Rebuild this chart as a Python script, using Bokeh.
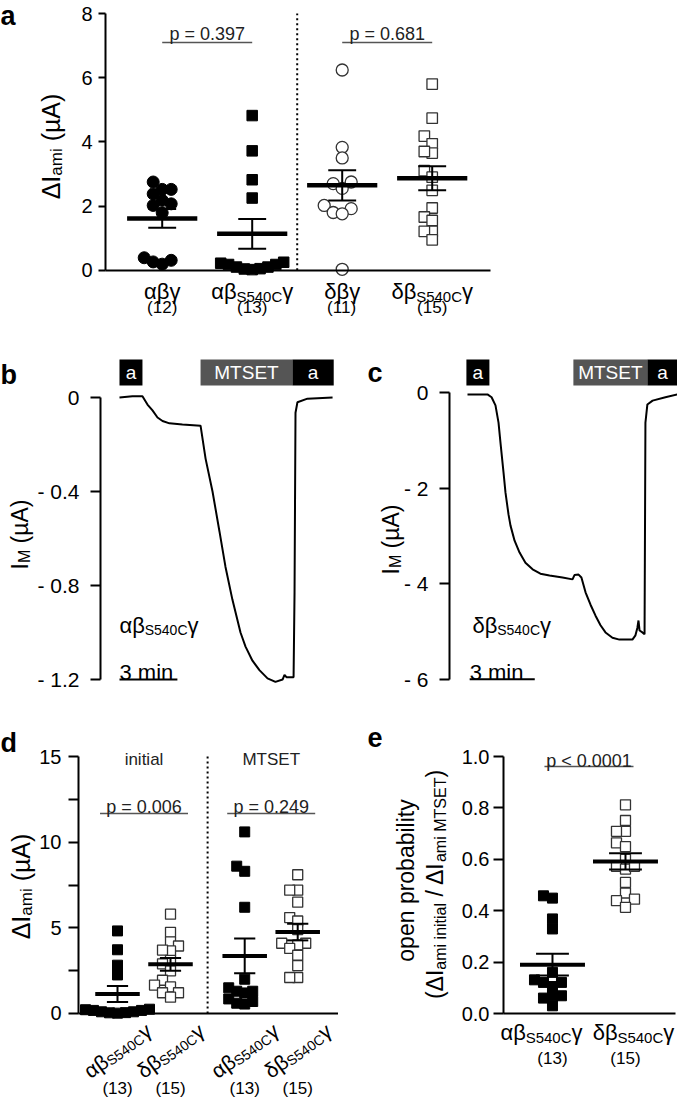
import math
import numpy as np
from bokeh.plotting import figure
from bokeh.models import Range1d, FixedTicker, Label
from bokeh.layouts import column, row
from bokeh.embed import file_html
from bokeh.resources import INLINE
from bokeh.core.properties import value

FONT = "Liberation Sans"

# ---------------- data ----------------
# panel a: amiloride-sensitive current (µA)
a_categories = [("αβγ", "", ""), ("αβ", "S540C", "γ"), ("δβγ", "", ""), ("δβ", "S540C", "γ")]
a_abg = [2.52, 2.38, 2.52, 2.75, 2.18, 2.02, 2.07, 1.79, 0.31, 0.19, 0.26, 0.39]
a_abS = [4.82, 3.72, 2.82, 2.25, 0.25, 0.18, 0.10, 0.05, 0.02, 0.04, 0.10, 0.18, 0.22]
a_dbg = [6.24, 3.83, 3.50, 2.75, 2.70, 2.55, 2.02, 1.80, 1.92, 1.76, 0.03]
a_dbS = [5.80, 4.74, 4.18, 3.94, 3.65, 3.70, 3.10, 2.90, 2.49, 1.94, 1.66, 1.55, 1.21, 1.21, 0.95]
a_pvalues = ["p = 0.397", "p = 0.681"]
a_yticks = [0, 2, 4, 6, 8]

# panel b: current trace αβS540Cγ (time in min, current in µA)
b_time = [0.0, 0.67, 1.19, 1.45, 1.71, 1.97, 2.23, 2.59, 3.26, 4.2, 4.46, 4.82, 5.18,
          5.49, 5.85, 6.27, 6.53, 6.89, 7.25, 7.67, 8.08, 8.45, 8.55, 8.65, 9.02, 9.07,
          9.12, 9.22, 9.74, 11.04]
b_current = [0.0, 0.005, 0.005, -0.03, -0.055, -0.085, -0.10, -0.11, -0.115, -0.12, -0.26,
             -0.40, -0.57, -0.72, -0.86, -1.0, -1.06, -1.12, -1.16, -1.195, -1.21, -1.20,
             -1.18, -1.19, -1.19, -0.83, -0.065, -0.02, -0.005, 0.0]
b_app_start = [0.0, 4.2, 8.96]
b_app_end = [1.19, 8.96, 11.1]
b_app_label = ["a", "MTSET", "a"]
b_yticks = [0, -0.4, -0.8, -1.2]
b_ytick_labels = ["0", "- 0.4", "- 0.8", "- 1.2"]

# panel c: current trace δβS540Cγ
c_time = [0.0, 0.92, 1.11, 1.29, 1.43, 1.52, 1.66, 1.75, 1.89, 1.98, 2.17, 2.40, 2.67, 3.0,
          3.36, 3.78, 4.38, 4.84, 4.93, 5.12, 5.25, 5.44, 5.67, 5.9, 6.13, 6.36, 6.68, 7.0,
          7.6, 7.74, 7.83, 7.88, 7.93, 8.06, 8.16, 8.2, 8.29, 8.53, 9.12, 9.68, 10.05]
c_current = [-0.04, -0.04, -0.10, -0.27, -0.63, -1.05, -1.67, -2.09, -2.55, -2.78, -3.10,
             -3.35, -3.56, -3.70, -3.79, -3.83, -3.87, -3.91, -3.82, -3.81, -3.87, -4.18,
             -4.44, -4.67, -4.87, -5.02, -5.13, -5.17, -5.17, -5.08, -4.92, -4.77, -4.98,
             -5.02, -5.06, -0.63, -0.25, -0.17, -0.10, -0.04, 0.0]
c_app_start = [-0.05, 4.88, 8.29]
c_app_end = [1.01, 8.29, 10.05]
c_app_label = ["a", "MTSET", "a"]
c_yticks = [0, -2, -4, -6]
c_ytick_labels = ["0", "- 2", "- 4", "- 6"]

# panel d: initial vs MTSET
d_sections = ["initial", "MTSET"]
d_categories = [("αβ", "S540C", "γ"), ("δβ", "S540C", "γ"), ("αβ", "S540C", "γ"), ("δβ", "S540C", "γ")]
d_init_ab = [4.82, 3.72, 2.82, 2.25, 0.25, 0.18, 0.10, 0.05, 0.02, 0.04, 0.10, 0.18, 0.22]
d_init_db = [5.80, 4.74, 4.18, 3.94, 3.65, 3.70, 3.10, 2.90, 2.49, 1.94, 1.66, 1.55, 1.21, 1.21, 0.95]
d_mt_ab = [10.6, 8.6, 8.3, 6.2, 2.0, 1.5, 1.3, 1.3, 1.2, 0.85, 0.7, 0.6, 0.55]
d_mt_db = [8.1, 7.2, 7.2, 6.5, 5.6, 5.4, 4.9, 4.1, 4.1, 4.0, 3.8, 3.4, 2.8, 2.1, 2.1]
d_pvalues = ["p = 0.006", "p = 0.249"]
d_yticks = [0, 5, 10, 15]
d_yminor = [2.5, 7.5, 12.5]

# panel e: open probability
e_categories = [("αβ", "S540C", "γ"), ("δβ", "S540C", "γ")]
e_ab = [0.458, 0.449, 0.368, 0.329, 0.16, 0.131, 0.121, 0.105, 0.121, 0.069, 0.06, 0.069, 0.03]
e_db = [0.812, 0.751, 0.709, 0.709, 0.664, 0.649, 0.60, 0.573, 0.562, 0.573, 0.51, 0.469,
        0.445, 0.439, 0.413]
e_pvalue = "p < 0.0001"
e_yticks = [0.0, 0.2, 0.4, 0.6, 0.8, 1.0]
e_ytick_labels = ["0.0", "0.2", "0.4", "0.6", "0.8", "1.0"]

# ---------------- helpers ----------------
W = {' ': .278, '(': .333, ')': .333, '.': .278, '=': .584, '<': .584, '/': .278, '-': .333,
     'a': .556, 'b': .556, 'e': .556, 'i': .222, 'l': .222, 'm': .833, 'n': .556,
     'o': .556, 'p': .556, 'r': .333, 't': .278, 'y': .5,
     'A': .667, 'C': .722, 'E': .667, 'I': .278, 'M': .833, 'S': .667, 'T': .611,
     'α': .578, 'β': .568, 'γ': .5, 'δ': .556, 'Δ': .668, 'µ': .576}


def tw(s):
    return sum(W.get(ch, 0.556) for ch in s)


def rich(p, pieces, x, y, units=("screen", "screen"), angle=0.0, align="center",
         color="black", bold=False, dx=0.0):
    """Compose text with subscripts; screen units are canvas px (x from left, y from bottom)."""
    ws = [tw(t) * sz for t, sz, sh in pieces]
    total = sum(ws)
    cum = {"left": 0.0, "center": -total / 2, "right": -total}[align]
    c, s = math.cos(angle), math.sin(angle)
    for (t, sz, sh), w in zip(pieces, ws):
        lead = (len(t) - len(t.lstrip(" "))) * W[' '] * sz
        a = cum + lead
        ox = a * c + sh * s + dx
        oy = a * s - sh * c
        p.add_layout(Label(x=x, y=y, x_units=units[0], y_units=units[1], x_offset=ox,
                           y_offset=oy, text=t.strip(" "), angle=angle, text_font=FONT,
                           text_font_size=f"{sz}px", text_color=color, text_align="left",
                           text_baseline="alphabetic",
                           text_font_style="bold" if bold else "normal"))
        cum += w


def cat_pieces(cat, main, sub, shift):
    pre, sb, post = cat
    out = [(pre, main, 0)]
    if sb:
        out += [(sb, sub, shift), (post, main, 0)]
    return out


def make_panel(Wc, Hc, left, top, fw, fh, xr, yr):
    """Figure whose frame fills the whole canvas; the axis box (left, top, fw, fh) maps to xr, yr."""
    sx = fw / (xr[1] - xr[0])
    sy = fh / (yr[1] - yr[0])
    right = Wc - left - fw
    bottom = Hc - top - fh
    X = (xr[0] - left / sx, xr[1] + right / sx)
    Y = (yr[0] - bottom / sy, yr[1] + top / sy)
    p = figure(frame_width=Wc, frame_height=Hc, x_range=Range1d(*X), y_range=Range1d(*Y),
               output_backend="svg", toolbar_location=None, min_border=0,
               min_border_left=0, min_border_right=0, min_border_top=0, min_border_bottom=0)
    p.outline_line_color = None
    p.xgrid.visible = False
    p.ygrid.visible = False
    p.background_fill_color = "white"
    p.border_fill_color = "white"
    p.yaxis[0].fixed_location = xr[0]
    return p, sx, sy


def style_y(p, ticks, bounds, labels=None, minor=None, tick_out=10, standoff=8, size="20px"):
    ax = p.yaxis[0]
    ax.ticker = FixedTicker(ticks=ticks, minor_ticks=minor or [])
    ax.bounds = bounds
    ax.axis_line_width = 2
    ax.axis_line_color = "black"
    ax.major_tick_line_width = 2
    ax.major_tick_line_color = "black"
    ax.major_tick_out = tick_out
    ax.major_tick_in = 0
    if minor:
        ax.minor_tick_line_width = 2
        ax.minor_tick_line_color = "black"
        ax.minor_tick_out = tick_out
        ax.minor_tick_in = 0
    else:
        ax.minor_tick_line_color = None
    ax.major_label_text_font = FONT
    ax.major_label_text_font_size = size
    ax.major_label_text_color = "black"
    ax.major_label_standoff = standoff
    if labels:
        ov = {}
        for t, l in zip(ticks, labels):
            ov[float(t)] = l
        ax.major_label_overrides = ov


def style_x_zero(p, bounds):
    ax = p.xaxis[0]
    ax.ticker = FixedTicker(ticks=[])
    ax.fixed_location = 0
    ax.bounds = bounds
    ax.axis_line_width = 2
    ax.axis_line_color = "black"
    ax.major_tick_line_color = None
    ax.minor_tick_line_color = None
    ax.major_label_text_font_size = "0px"


def swarm(vals, center, xs_px, ys_px, size, k=0.85):
    vals = np.asarray(vals, float)
    order = np.argsort(vals, kind="stable")
    placed = []
    out = np.zeros(len(vals))
    d = size * k
    for i in order:
        py = vals[i] * ys_px
        px = 0.0
        for j in range(60):
            step = ((j + 1) // 2) * (1 if j % 2 == 0 else -1)
            px = step * d
            if all((px - qx) ** 2 + (py - qy) ** 2 >= d * d - 1e-9 for qx, qy in placed):
                break
        placed.append((px, py))
        out[i] = center + px / xs_px
    return out


def draw_group(p, vals, pos, marker, filled, size, xs_px, ys_px, mean_hw, cap_hw, mean_w, k=0.85):
    vals = np.asarray(vals, float)
    x = swarm(vals, pos, xs_px, ys_px, size, k)
    p.scatter(x=x, y=vals, marker=marker, size=size,
              fill_color="black" if filled else "white",
              line_color="black" if filled else "#333333",
              line_width=1.0 if filled else 1.3)
    m = vals.mean()
    sem = vals.std(ddof=1) / math.sqrt(len(vals))
    p.segment(x0=[pos, pos - cap_hw, pos - cap_hw], y0=[m - sem, m - sem, m + sem],
              x1=[pos, pos + cap_hw, pos + cap_hw], y1=[m + sem, m - sem, m + sem],
              line_color="black", line_width=2)
    p.segment(x0=[pos - mean_hw], y0=[m], x1=[pos + mean_hw], y1=[m],
              line_color="black", line_width=mean_w)


def ptext(p, xs, ys, texts, size="17px", align="center", baseline="alphabetic", color="#222222"):
    p.text(x=xs, y=ys, text=texts, text_font=value(FONT), text_font_size=size,
           text_align=align, text_baseline=baseline, text_color=color)


# ---------------- panel a ---------------- (canvas 677 x 330)
xr_a = (0.37, 0.37 + 385 / 90.0)
p_a, xs_a, ys_a = make_panel(677, 330, 105, 13, 385, 268, xr_a, (-0.35, 8.0))
style_y(p_a, a_yticks, (0, 8), tick_out=7, standoff=6)
style_x_zero(p_a, xr_a)
a_groups = [a_abg, a_abS, a_dbg, a_dbS]
a_markers = [("circle", True, 12), ("square", True, 10.5), ("circle", False, 12), ("square", False, 10.5)]
a_pos = [1, 2, 3, 4]
p_a.segment(x0=[2.5], y0=[0], x1=[2.5], y1=[8], line_color="black", line_width=2, line_dash="2 3")
for vals, pos, (mk, fl, sz) in zip(a_groups, a_pos, a_markers):
    draw_group(p_a, vals, pos, mk, fl, sz, xs_a, ys_a, 0.39, 0.155, 4.5, k=0.75)
p_a.segment(x0=[1, 3], y0=[7.1, 7.1], x1=[2, 4], y1=[7.1, 7.1], line_color="#555555", line_width=1.5)
ptext(p_a, [1.5, 3.5], [7.35, 7.35], a_pvalues, size="18px")
for cat, vals, pos in zip(a_categories, a_groups, a_pos):
    rich(p_a, cat_pieces(cat, 22, 15, 5), pos, 39, units=("data", "screen"))
    rich(p_a, [(f"({len(vals)})", 17, 0)], pos, 23, units=("data", "screen"))
rich(p_a, [("ΔI", 25, 0), ("ami", 17, 6), (" (µA)", 25, 0)], 50, 184, angle=math.pi / 2)
rich(p_a, [("a", 27, 0)], 0, 315, align="left", bold=True)

# ---------------- panel b ---------------- (canvas 338 x 387)
xr_b = (-0.984, -0.984 + 235 / 19.3)
p_b, _, _ = make_panel(338, 387, 100, 22, 235, 335, xr_b, (-1.234, 0.1915))
style_y(p_b, b_yticks, (-1.2, 0), labels=b_ytick_labels, tick_out=10, standoff=11, size="21px")
p_b.xaxis.visible = False
app_colors_b = ["black" if l == "a" else "#555555" for l in b_app_label]
p_b.quad(left=b_app_start, right=b_app_end, bottom=[0.051] * 3, top=[0.162] * 3,
         fill_color=app_colors_b, line_color=None)
ptext(p_b, [(s + e) / 2 for s, e in zip(b_app_start, b_app_end)], [0.1065] * 3, b_app_label,
      size="19px", baseline="middle", color="white")
p_b.line(b_time, b_current, line_color="black", line_width=2)
p_b.segment(x0=[0], y0=[-1.2], x1=[3], y1=[-1.2], line_color="black", line_width=2)
ptext(p_b, [0], [-1.17], ["3 min"], size="22px", align="left", color="black")
rich(p_b, cat_pieces(("αβ", "S540C", "γ"), 22, 14, 5), 0, -0.97, units=("data", "data"), align="left")
rich(p_b, [("I", 23, 0), ("M", 16, 5), (" (µA)", 23, 0)], 19, 183, angle=math.pi / 2)
rich(p_b, [("b", 27, 0)], 0, 343, align="left", bold=True)

# ---------------- panel c ---------------- (canvas 339 x 387)
xr_c = (-0.829, -0.829 + 228 / 21.7)
p_c, _, _ = make_panel(339, 387, 111, 22, 228, 335, xr_c, (-6.172, 0.837))
style_y(p_c, c_yticks, (-6, 0), labels=c_ytick_labels, tick_out=10, standoff=11, size="21px")
p_c.xaxis.visible = False
app_colors_c = ["black" if l == "a" else "#555555" for l in c_app_label]
p_c.quad(left=c_app_start, right=c_app_end, bottom=[0.146] * 3, top=[0.69] * 3,
         fill_color=app_colors_c, line_color=None)
c_text_x = [(s + e) / 2 for s, e in zip(c_app_start, c_app_end)]
c_text_x[-1] = (c_app_start[-1] + xr_c[1]) / 2
ptext(p_c, c_text_x, [0.418] * 3, c_app_label, size="19px", baseline="middle", color="white")
p_c.line(c_time, c_current, line_color="black", line_width=2)
p_c.segment(x0=[0.1], y0=[-6], x1=[3.1], y1=[-6], line_color="black", line_width=2)
ptext(p_c, [0.1], [-5.86], ["3 min"], size="22px", align="left", color="black")
rich(p_c, cat_pieces(("δβ", "S540C", "γ"), 22, 14, 5), 0.23, -4.87, units=("data", "data"), align="left")
rich(p_c, [("I", 23, 0), ("M", 16, 5), (" (µA)", 23, 0)], 52, 178, angle=math.pi / 2)
rich(p_c, [("c", 27, 0)], 29, 345, align="left", bold=True)

# ---------------- panel d ---------------- (canvas 338 x 380)
xr_d = (0.264, 0.264 + 260 / 53.0)
p_d, xs_d, ys_d = make_panel(338, 380, 78, 20, 260, 286, xr_d, (-0.584, 16.11))
style_y(p_d, d_yticks, (0, 15), minor=d_yminor, tick_out=10, standoff=7)
style_x_zero(p_d, xr_d)
d_groups = [d_init_ab, d_init_db, d_mt_ab, d_mt_db]
d_pos = [1, 2, 3.4, 4.4]
d_markers = [("square", True, 10), ("square", False, 10), ("square", True, 10), ("square", False, 10)]
div_d = (d_pos[1] + d_pos[2]) / 2
p_d.segment(x0=[div_d], y0=[0], x1=[div_d], y1=[15], line_color="black", line_width=2, line_dash="2 3")
for vals, pos, (mk, fl, sz) in zip(d_groups, d_pos, d_markers):
    draw_group(p_d, vals, pos, mk, fl, sz, xs_d, ys_d, 0.42, 0.2, 4, k=0.8)
d_centers = [(d_pos[0] + d_pos[1]) / 2, (d_pos[2] + d_pos[3]) / 2]
p_d.segment(x0=[c - 0.83 for c in d_centers], y0=[11.68] * 2, x1=[c + 0.83 for c in d_centers],
            y1=[11.68] * 2, line_color="#555555", line_width=1.5)
ptext(p_d, d_centers, [12.08] * 2, d_pvalues, size="18px")
ptext(p_d, d_centers, [14.83] * 2, d_sections, size="17px")
ang = math.radians(36)
for cat, vals, pos in zip(d_categories, d_groups, d_pos):
    rich(p_d, cat_pieces(cat, 21, 14, 4), pos, 47, units=("data", "screen"), angle=ang)
    rich(p_d, [(f"({len(vals)})", 17, 0)], pos, 9, units=("data", "screen"))
rich(p_d, [("ΔI", 25, 0), ("ami", 17, 6), (" (µA)", 25, 0)], 20, 211, angle=math.pi / 2)
rich(p_d, [("d", 27, 0)], 0, 355, align="left", bold=True)

# ---------------- panel e ---------------- (canvas 339 x 380)
xr_e = (0.329, 0.329 + 172 / 73.0)
p_e, xs_e, ys_e = make_panel(339, 380, 165, 20, 172, 286, xr_e, (-0.0389, 1.074))
style_y(p_e, e_yticks, (0, 1), labels=e_ytick_labels, tick_out=10, standoff=4)
style_x_zero(p_e, xr_e)
e_groups = [e_ab, e_db]
e_pos = [1, 2]
e_markers = [("square", True, 10), ("square", False, 10)]
for vals, pos, (mk, fl, sz) in zip(e_groups, e_pos, e_markers):
    draw_group(p_e, vals, pos, mk, fl, sz, xs_e, ys_e, 0.445, 0.225, 4, k=0.9)
p_e.segment(x0=[1.5 - 0.61], y0=[0.961], x1=[1.5 + 0.61], y1=[0.961], line_color="#555555", line_width=1.5)
ptext(p_e, [1.5], [0.984], [e_pvalue], size="18px")
e_label_dx = [-11, 8]
for cat, vals, pos, ddx in zip(e_categories, e_groups, e_pos, e_label_dx):
    rich(p_e, cat_pieces(cat, 22, 15, 5), pos, 65, units=("data", "screen"), dx=ddx)
    rich(p_e, [(f"({len(vals)})", 17, 0)], pos, 39, units=("data", "screen"))
rich(p_e, [("open probability", 23, 0)], 67, 217, angle=math.pi / 2)
rich(p_e, [("(ΔI", 23, 0), ("ami initial", 16, 6), (" / ΔI", 23, 0), ("ami MTSET", 16, 6), (")", 23, 0)],
     96, 213, angle=math.pi / 2)
rich(p_e, [("e", 27, 0)], 29, 360, align="left", bold=True)

layout = column(p_a, row(p_b, p_c), row(p_d, p_e))
open("out.html", "w").write(file_html(layout, INLINE))
